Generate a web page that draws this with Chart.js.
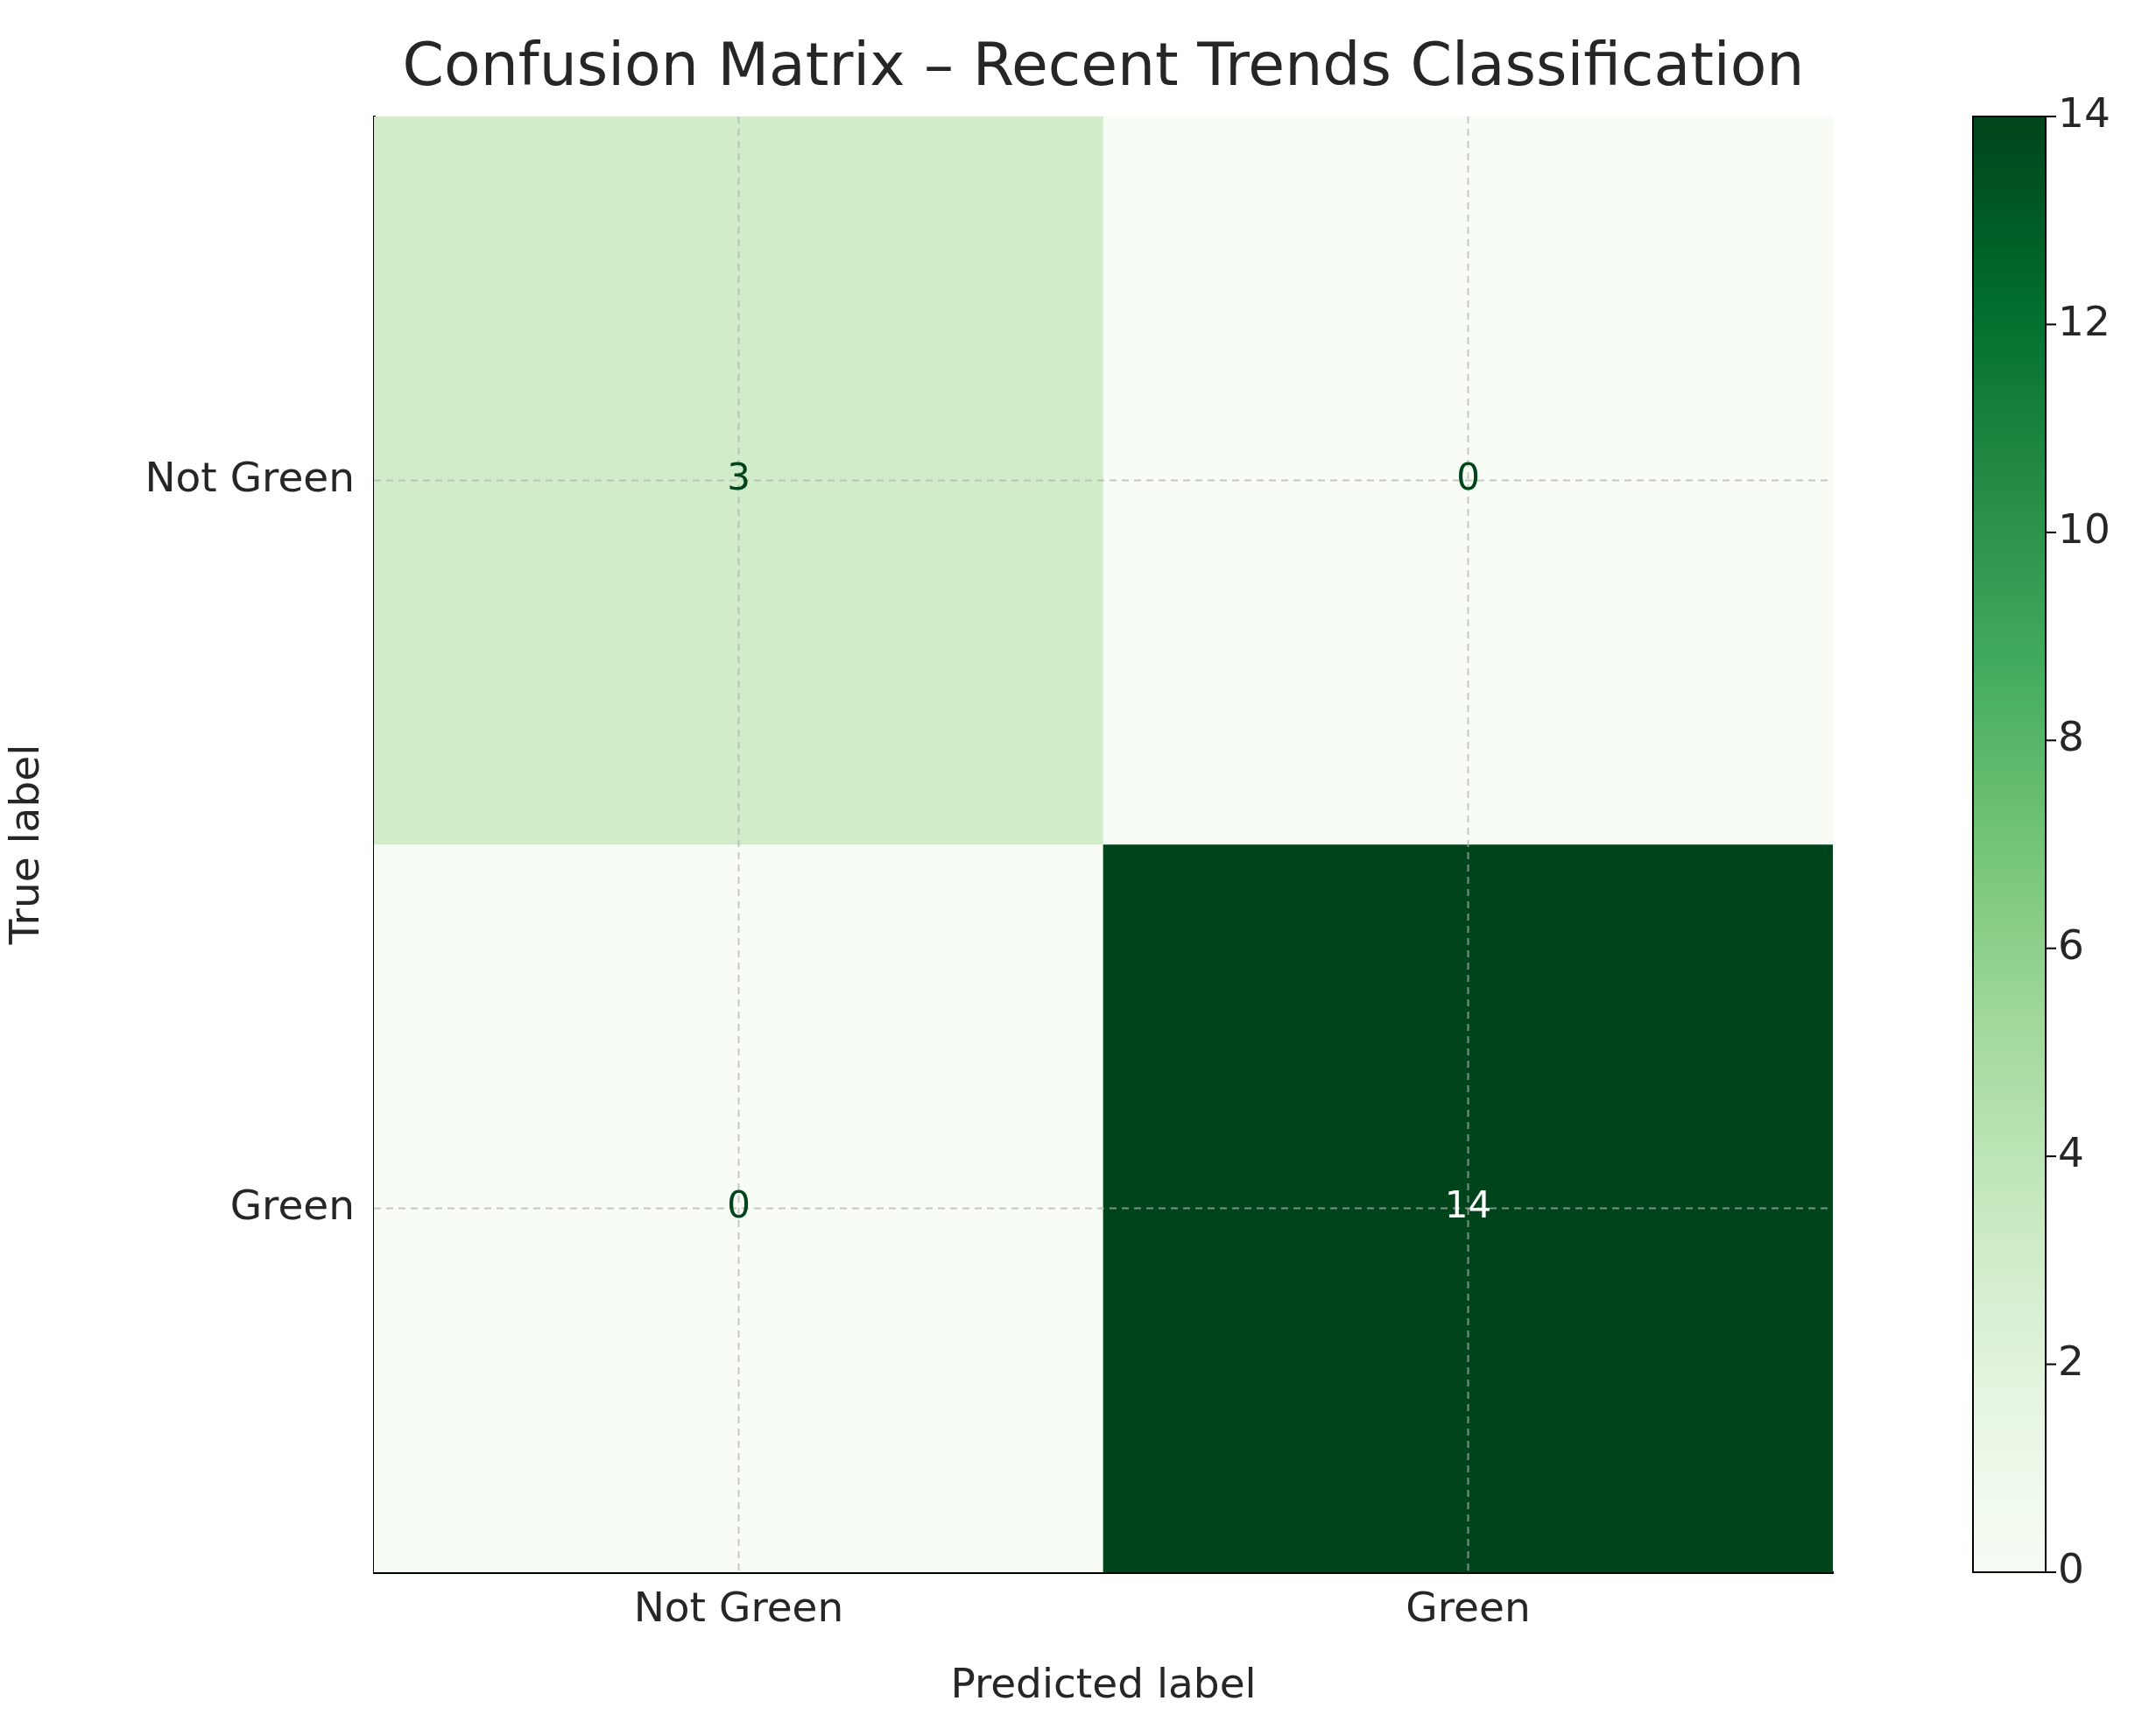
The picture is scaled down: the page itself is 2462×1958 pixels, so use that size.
<!DOCTYPE html>
<html>
<head>
<meta charset="utf-8">
<script src="https://cdn.jsdelivr.net/npm/chart.js@4"></script>
<style>
  body { margin: 0; background: #fff; font-family: "DejaVu Sans", sans-serif; }
  #wrap { position: relative; width: 2462px; height: 1958px; }
  #title { position: absolute; left: 0; width: 2520px; top: 34px; text-align: center; font-size: 68px; color: #262626; }
  #main { position: absolute; left: 0; top: 0; }
  #bar { position: absolute; left: 2200px; top: 0; }
</style>
</head>
<body>
<div id="wrap">
  <div id="title">Confusion Matrix – Recent Trends Classification</div>
  <canvas id="main" width="2150" height="1958"></canvas>
  <canvas id="bar" width="262" height="1958"></canvas>
</div>
<script>
const labels = ["Not Green", "Green"];
// rows = true label, columns = predicted label
const matrix = [
    [3, 0],
    [0, 14]
];
const maxValue = 14;
const barTicks = [0, 2, 4, 6, 8, 10, 12, 14];

const greens = ["#f7fcf5", "#e5f5e0", "#c7e9c0", "#a1d99b", "#74c476", "#41ab5d", "#238b45", "#006d2c", "#00441b"];

function hexToRgb(h){
    return [parseInt(h.slice(1,3),16), parseInt(h.slice(3,5),16), parseInt(h.slice(5,7),16)];
}

function colorFor(v){
    let t = v / maxValue * (greens.length - 1);
    let i = Math.min(Math.floor(t), greens.length - 2);
    let f = t - i;
    let a = hexToRgb(greens[i]), b = hexToRgb(greens[i+1]);
    let c = a.map((x, k) => Math.round(x + (b[k] - x) * f));
    return `rgb(${c[0]},${c[1]},${c[2]})`;
}

const textColor = "#262626";
const tickFont = { family: "DejaVu Sans", size: 47 };

const datasets = matrix.map((row, r) => ({
    data: row.map(() => [r - 0.5, r + 0.5]),
    values: row,
    backgroundColor: row.map(v => colorFor(v)),
    borderWidth: 0,
    grouped: false,
    barPercentage: 1,
    categoryPercentage: 1
}));

const cellText = {
    id: "cellText",
    afterDatasetsDraw(chart){
        const ctx = chart.ctx;
        const x = chart.scales.x, y = chart.scales.y;
        ctx.save();
        ctx.font = "42px 'DejaVu Sans'";
        ctx.textAlign = "center";
        ctx.textBaseline = "middle";
        matrix.forEach((row, r) => row.forEach((v, c) => {
            ctx.fillStyle = v > maxValue / 2 ? "#ffffff" : "#00441b";
            ctx.fillText(String(v), x.getPixelForValue(c), y.getPixelForValue(r));
        }));
        ctx.restore();
    },
    beforeDatasetsDraw(chart){
        // grid drawn over the cells, dashed
    }
};

const gridOnTop = {
    id: "gridOnTop",
    afterDatasetsDraw(chart){
        const ctx = chart.ctx, a = chart.chartArea;
        const x = chart.scales.x, y = chart.scales.y;
        ctx.save();
        ctx.strokeStyle = "rgba(176,176,176,0.7)";
        ctx.lineWidth = 2;
        ctx.setLineDash([8, 6]);
        [0, 1].forEach(i => {
            let px = x.getPixelForValue(i);
            ctx.beginPath(); ctx.moveTo(px, a.top); ctx.lineTo(px, a.bottom); ctx.stroke();
            let py = y.getPixelForValue(i);
            ctx.beginPath(); ctx.moveTo(a.left, py); ctx.lineTo(a.right, py); ctx.stroke();
        });
        ctx.restore();
    }
};

new Chart(document.getElementById("main"), {
    type: "bar",
    data: { labels: labels, datasets: datasets },
    options: {
        responsive: false,
        animation: false,
        layout: { padding: { top: 133, right: 57, left: 0, bottom: 0 } },
        plugins: { legend: { display: false }, tooltip: { enabled: false }, title: { display: false } },
        scales: {
            x: {
                grid: { display: false, drawTicks: true },
                border: { color: "#000", width: 3 },
                ticks: { color: textColor, font: tickFont, padding: 8 },
                title: { display: true, text: "Predicted label", color: textColor, font: tickFont },
                afterFit: s => { s.height = 163; }
            },
            y: {
                min: -0.5, max: 1.5, reverse: true,
                afterBuildTicks: s => { s.ticks = [{ value: 0 }, { value: 1 }]; },
                grid: { display: false },
                border: { color: "#000", width: 3 },
                ticks: { color: textColor, font: tickFont, padding: 14, callback: v => labels[v] },
                title: { display: true, text: "True label", color: textColor, font: tickFont },
                afterFit: s => { s.width = 427; }
            }
        }
    },
    plugins: [gridOnTop, cellText]
});

new Chart(document.getElementById("bar"), {
    type: "bar",
    data: {
        labels: [""],
        datasets: [{
            data: [[0, maxValue]],
            borderWidth: 0,
            barPercentage: 1,
            categoryPercentage: 1,
            backgroundColor: (c) => {
                const area = c.chart.chartArea;
                if (!area) return greens[0];
                const g = c.chart.ctx.createLinearGradient(0, area.bottom, 0, area.top);
                greens.forEach((col, i) => g.addColorStop(i / (greens.length - 1), col));
                return g;
            }
        }]
    },
    options: {
        responsive: false,
        animation: false,
        layout: { padding: { top: 133, bottom: 163, left: 53, right: 6 } },
        plugins: { legend: { display: false }, tooltip: { enabled: false } },
        scales: {
            x: { display: false },
            y: {
                position: "right",
                min: 0, max: maxValue,
                afterBuildTicks: s => { s.ticks = barTicks.map(v => ({ value: v })); },
                grid: { display: false, drawTicks: true },
                border: { color: "#000", width: 2 },
                ticks: { color: textColor, font: tickFont, padding: 6 },
                afterFit: s => { s.width = 120; }
            }
        }
    },
    plugins: [{
        id: "frame",
        afterDraw(chart){
            const a = chart.chartArea, ctx = chart.ctx;
            ctx.save();
            ctx.strokeStyle = "#000"; ctx.lineWidth = 2;
            ctx.strokeRect(a.left, a.top, a.right - a.left, a.bottom - a.top);
            ctx.lineWidth = 2;
            barTicks.forEach(v => {
                let py = chart.scales.y.getPixelForValue(v);
                ctx.beginPath(); ctx.moveTo(a.right, py); ctx.lineTo(a.right + 12, py); ctx.stroke();
            });
            ctx.restore();
        }
    }]
});
</script>
</body>
</html>
